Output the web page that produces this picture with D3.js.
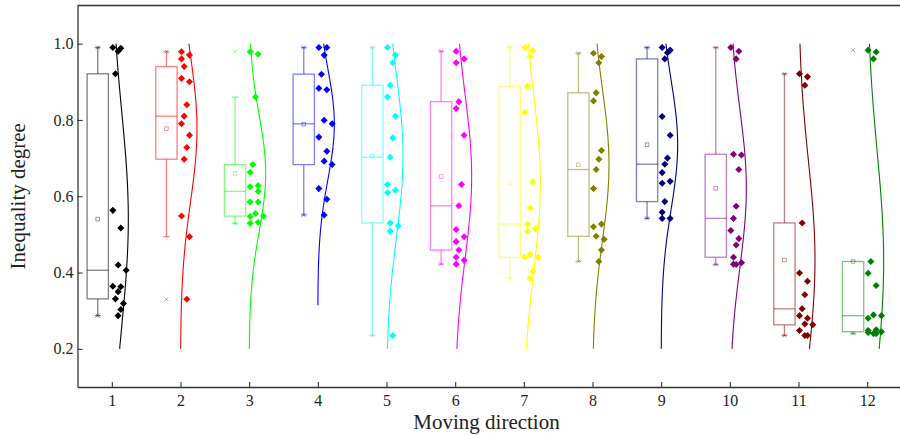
<!DOCTYPE html>
<html>
<head>
<meta charset="utf-8">
<script src="https://cdn.jsdelivr.net/npm/d3@7"></script>
<style>
  body { margin: 0; background: #fff; }
  svg text { font-family: "Liberation Serif", "Times New Roman", serif; fill: #222; }
</style>
</head>
<body>
<div id="chart"></div>
<script>
// Moving direction categories and their colours
const directions = [1, 2, 3, 4, 5, 6, 7, 8, 9, 10, 11, 12];
const colors = ["#000000", "#FF0000", "#00FF00", "#0000FF", "#00FFFF", "#FF00FF",
                "#FFFF00", "#808000", "#000080", "#800080", "#800000", "#008000"];

// Inequality degree per direction
const dir1  = [0.99, 0.988, 0.98, 0.921, 0.563, 0.517, 0.42, 0.406, 0.364, 0.363, 0.35, 0.331, 0.319, 0.303, 0.287];
const dir2  = [0.979, 0.97, 0.96, 0.94, 0.909, 0.9, 0.84, 0.81, 0.79, 0.76, 0.728, 0.697, 0.548, 0.494, 0.33];
const dir3  = [0.979, 0.972, 0.86, 0.683, 0.663, 0.628, 0.625, 0.613, 0.585, 0.585, 0.555, 0.548, 0.547, 0.532, 0.529];
const dir4  = [0.99, 0.99, 0.97, 0.92, 0.883, 0.879, 0.799, 0.79, 0.755, 0.718, 0.692, 0.683, 0.62, 0.592, 0.551];
const dir5  = [0.99, 0.97, 0.95, 0.891, 0.86, 0.81, 0.753, 0.702, 0.631, 0.616, 0.609, 0.53, 0.522, 0.508, 0.235];
const dir6  = [0.98, 0.96, 0.95, 0.848, 0.83, 0.76, 0.631, 0.575, 0.513, 0.494, 0.481, 0.459, 0.44, 0.432, 0.422];
const dir7  = [0.99, 0.982, 0.967, 0.888, 0.82, 0.637, 0.569, 0.527, 0.515, 0.508, 0.447, 0.44, 0.44, 0.403, 0.385];
const dir8  = [0.975, 0.966, 0.95, 0.871, 0.85, 0.72, 0.697, 0.67, 0.62, 0.527, 0.52, 0.495, 0.487, 0.459, 0.429];
const dir9  = [0.99, 0.983, 0.976, 0.96, 0.809, 0.76, 0.7, 0.684, 0.662, 0.639, 0.634, 0.586, 0.558, 0.542, 0.542];
const dir10 = [0.99, 0.98, 0.96, 0.71, 0.708, 0.67, 0.574, 0.542, 0.51, 0.489, 0.472, 0.44, 0.426, 0.422, 0.421];
const dir11 = [0.921, 0.913, 0.891, 0.53, 0.399, 0.377, 0.342, 0.305, 0.287, 0.28, 0.265, 0.263, 0.248, 0.235, 0.235];
const dir12 = [0.983, 0.978, 0.96, 0.429, 0.398, 0.366, 0.289, 0.287, 0.28, 0.25, 0.248, 0.245, 0.243, 0.24, 0.24];
const groups = [dir1, dir2, dir3, dir4, dir5, dir6, dir7, dir8, dir9, dir10, dir11, dir12];

const yTicks = [0.2, 0.4, 0.6, 0.8, 1.0];
const curveRange = [0.2, 1.0];

const width = 900, height = 435;
const plotLeft = 77.5, plotRight = 901.5, plotTop = 5.5, plotBottom = 387;
const serif = '"Liberation Serif", "Times New Roman", serif';

const svg = d3.select("#chart").append("svg")
    .attr("width", width)
    .attr("height", height);

const x = d3.scaleLinear().domain([0.5, 12.5]).range([plotLeft, plotRight]);
const y = d3.scaleLinear().domain([0.1, 1.1]).range([plotBottom, plotTop]);
const step = x(2) - x(1);

// Origin style percentile, (n+1)p
function pct(s, p) {
    const n = s.length, pos = p * (n + 1);
    if (pos <= 1) return s[0];
    if (pos >= n) return s[n - 1];
    const k = Math.floor(pos), f = pos - k;
    return s[k - 1] + f * (s[k] - s[k - 1]);
}

// deterministic side-by-side spread of points (no randomness)
function spread(vals) {
    const placed = [];
    return vals.map((v, i) => {
        let slot = (i * 3) % 4;
        for (let t = 0; t < 6; t++) {
            const clash = placed.some(p => Math.abs(y(p.v) - y(v)) < 5.5 && Math.abs(p.s - slot) < 2);
            if (!clash) break;
            slot = (slot + 2) % 6;
        }
        placed.push({ v, s: slot });
        return slot;
    });
}

const boxW = step * 0.31, boxOff = step * 0.205, capW = 3, curveW = step * 0.24;
const diamond = d3.symbol(d3.symbolSquare, 25);

const g = svg.append("g");

groups.forEach((vals, i) => {
    const c = colors[i];
    const cx = x(directions[i]);
    const s = vals.slice().sort(d3.ascending);
    const q1 = pct(s, 0.25), q3 = pct(s, 0.75), med = pct(s, 0.5);
    const iqr = q3 - q1;
    const lo = d3.min(s.filter(v => v >= q1 - 1.5 * iqr));
    const hi = d3.max(s.filter(v => v <= q3 + 1.5 * iqr));
    const mean = d3.mean(vals), sd = d3.deviation(vals);
    const bx = cx - boxOff;

    const box = g.append("g")
        .attr("stroke", c)
        .attr("stroke-opacity", 0.5)
        .attr("fill", "none")
        .attr("stroke-width", 1.3);

    // whiskers
    box.append("line").attr("x1", bx).attr("x2", bx).attr("y1", y(q3)).attr("y2", y(hi));
    box.append("line").attr("x1", bx).attr("x2", bx).attr("y1", y(q1)).attr("y2", y(lo));
    [lo, hi].forEach(v => {
        box.append("line").attr("x1", bx - capW).attr("x2", bx + capW).attr("y1", y(v)).attr("y2", y(v));
    });

    // box and median
    box.append("rect")
        .attr("x", bx - boxW / 2).attr("width", boxW)
        .attr("y", y(q3)).attr("height", y(q1) - y(q3))
        .attr("fill", "#fff");
    box.append("line").attr("x1", bx - boxW / 2).attr("x2", bx + boxW / 2).attr("y1", y(med)).attr("y2", y(med));

    // mean square
    box.append("rect")
        .attr("x", bx - 1.8).attr("y", y(mean) - 1.8)
        .attr("width", 3.6).attr("height", 3.6)
        .attr("stroke-width", 0.8);

    // min / max crosses
    [s[0], s[s.length - 1]].forEach(v => {
        box.append("path")
            .attr("d", `M${bx - 2},${y(v) - 2}L${bx + 2},${y(v) + 2}M${bx - 2},${y(v) + 2}L${bx + 2},${y(v) - 2}`)
            .attr("stroke-width", 0.9);
    });

    // normal distribution curve
    const a = Math.max(curveRange[0], mean - 3.25 * sd);
    const b = Math.min(curveRange[1], mean + 3.25 * sd);
    const pts = d3.range(a, b + 0.0001, (b - a) / 120);
    const line = d3.line()
        .x(v => cx + curveW * Math.exp(-0.5 * Math.pow((v - mean) / sd, 2)))
        .y(v => y(v));
    g.append("path")
        .attr("d", line(pts))
        .attr("fill", "none")
        .attr("stroke", c)
        .attr("stroke-width", 1.1);

    // data points
    const slots = spread(vals);
    g.append("g").selectAll("path")
        .data(vals)
        .join("path")
        .attr("d", diamond)
        .attr("transform", (v, j) => `translate(${cx + 1 + slots[j] * 2.66},${y(v)}) rotate(45)`)
        .attr("fill", c);
});

// axes
const xAxis = d3.axisBottom(x).tickValues(directions).tickSize(-5).tickSizeOuter(0).tickPadding(8);
const yAxis = d3.axisLeft(y).tickValues(yTicks).tickFormat(d3.format(".1f")).tickSize(-5).tickSizeOuter(0).tickPadding(4);

const gx = svg.append("g").attr("transform", `translate(0,${plotBottom})`).call(xAxis);
const gy = svg.append("g").attr("transform", `translate(${plotLeft},0)`).call(yAxis);

[gx, gy].forEach(a => {
    a.attr("font-family", serif).attr("font-size", 16);
    a.select(".domain").attr("stroke", "#333").attr("stroke-width", 1.3);
    a.selectAll(".tick line").attr("stroke", "#333").attr("stroke-width", 1.1);
    a.selectAll("text")
        .style("font-family", serif)
        .style("font-size", "16px")
        .attr("fill", "#222");
});

svg.append("line")
    .attr("x1", plotLeft).attr("x2", plotRight)
    .attr("y1", plotTop).attr("y2", plotTop)
    .attr("stroke", "#333").attr("stroke-width", 1.3);

svg.append("text")
    .attr("x", (x(1) + x(12)) / 2 - 3)
    .attr("y", 429)
    .attr("text-anchor", "middle")
    .style("font-family", serif)
    .style("font-size", "21px")
    .text("Moving direction");

svg.append("text")
    .attr("transform", `translate(25,${(plotTop + plotBottom) / 2}) rotate(-90)`)
    .attr("text-anchor", "middle")
    .style("font-family", serif)
    .style("font-size", "21px")
    .text("Inequality degree");
</script>
</body>
</html>
